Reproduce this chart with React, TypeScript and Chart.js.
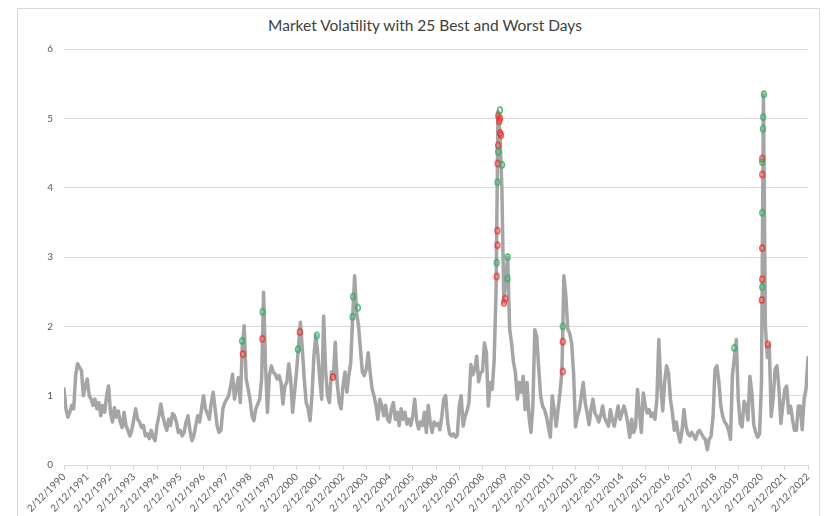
import React, { useEffect, useRef } from 'react';
import { Chart, registerables } from 'chart.js';

Chart.register(...registerables);

const TITLE = 'Market Volatility with 25 Best and Worst Days';

const tickLabels = [
  '2/12/1990', '2/12/1991', '2/12/1992', '2/12/1993', '2/12/1994', '2/12/1995',
  '2/12/1996', '2/12/1997', '2/12/1998', '2/12/1999', '2/12/2000', '2/12/2001',
  '2/12/2002', '2/12/2003', '2/12/2004', '2/12/2005', '2/12/2006', '2/12/2007',
  '2/12/2008', '2/12/2009', '2/12/2010', '2/12/2011', '2/12/2012', '2/12/2013',
  '2/12/2014', '2/12/2015', '2/12/2016', '2/12/2017', '2/12/2018', '2/12/2019',
  '2/12/2020', '2/12/2021', '2/12/2022',
];
const yTicks = [0, 1, 2, 3, 4, 5, 6];

// Monthly volatility readings (Feb .. Jan following each 2/12 label)
const vol1990 = [1.10, 0.81, 0.69, 0.76, 0.86, 0.81, 1.29, 1.46, 1.41, 1.36, 1.00, 1.14];
const vol1991 = [1.24, 1.00, 0.95, 0.86, 0.95, 0.81, 0.90, 0.71, 0.86, 0.76, 1.00, 1.14];
const vol1992 = [0.76, 0.62, 0.83, 0.69, 0.78, 0.62, 0.54, 0.76, 0.57, 0.50, 0.42, 0.50];
const vol1993 = [0.66, 0.81, 0.66, 0.62, 0.54, 0.57, 0.42, 0.45, 0.38, 0.50, 0.40, 0.35];
const vol1994 = [0.57, 0.71, 0.88, 0.71, 0.59, 0.50, 0.66, 0.57, 0.74, 0.71, 0.62, 0.47];
const vol1995 = [0.50, 0.42, 0.47, 0.62, 0.71, 0.50, 0.35, 0.42, 0.57, 0.71, 0.62, 0.81];
const vol1996 = [1.00, 0.81, 0.74, 0.66, 0.90, 1.05, 0.81, 0.57, 0.47, 0.50, 0.81, 0.90];
const vol1997 = [0.95, 1.00, 1.14, 1.31, 0.95, 1.10, 1.26, 0.90, 1.70, 2.01, 1.25, 1.10];
const vol1998 = [0.95, 0.71, 0.64, 0.81, 0.88, 0.95, 1.24, 2.49, 1.45, 0.76, 1.29, 1.43];
const vol1999 = [1.34, 1.31, 1.24, 1.29, 1.19, 0.88, 1.14, 1.19, 1.46, 1.24, 0.76, 1.05];
const vol2000 = [1.34, 1.70, 2.06, 1.67, 1.24, 0.90, 0.81, 0.64, 1.00, 1.58, 1.87, 1.60];
const vol2001 = [1.24, 0.95, 2.15, 1.38, 1.00, 0.90, 1.34, 1.27, 1.77, 1.19, 0.90, 0.81];
const vol2002 = [1.14, 1.34, 1.05, 1.29, 1.48, 2.15, 2.73, 2.20, 2.01, 1.67, 1.34, 1.29];
const vol2003 = [1.38, 1.62, 1.34, 1.10, 1.00, 0.86, 0.66, 0.95, 0.86, 0.71, 0.86, 0.66];
const vol2004 = [0.62, 0.81, 0.90, 0.66, 0.76, 0.57, 0.81, 0.66, 0.76, 0.59, 0.66, 0.57];
const vol2005 = [0.71, 0.95, 0.64, 0.52, 0.62, 0.57, 0.76, 0.47, 0.86, 0.62, 0.47, 0.62];
const vol2006 = [0.57, 0.60, 0.51, 0.70, 0.95, 1.00, 0.62, 0.45, 0.42, 0.45, 0.40, 0.43];
const vol2007 = [0.85, 1.00, 0.56, 0.70, 0.78, 0.90, 1.45, 1.30, 1.38, 1.57, 1.20, 1.33];
const vol2008 = [1.35, 1.76, 1.62, 0.85, 1.19, 1.09, 1.50, 2.50, 5.10, 4.80, 4.00, 2.34];
const vol2009 = [2.70, 3.00, 1.96, 1.76, 1.48, 1.33, 0.95, 1.19, 1.05, 1.28, 0.80, 1.19];
const vol2010 = [0.70, 0.47, 0.85, 1.95, 1.85, 1.40, 1.00, 0.85, 0.80, 0.70, 0.55, 0.40];
const vol2011 = [1.00, 0.80, 0.56, 0.80, 1.04, 1.35, 2.73, 2.45, 1.96, 1.90, 1.76, 1.33];
const vol2012 = [0.55, 0.70, 0.80, 1.00, 1.19, 0.90, 0.75, 0.58, 0.80, 0.95, 0.75, 0.70];
const vol2013 = [0.62, 0.72, 0.85, 0.68, 0.62, 0.56, 0.80, 0.65, 0.56, 0.70, 0.85, 0.66];
const vol2014 = [0.75, 0.85, 0.75, 0.60, 0.40, 0.66, 0.47, 0.55, 1.09, 0.75, 0.47, 1.04];
const vol2015 = [0.85, 0.75, 0.80, 0.70, 0.75, 0.66, 0.95, 1.81, 1.15, 0.78, 1.20, 1.43];
const vol2016 = [1.33, 0.95, 0.75, 0.50, 0.62, 0.45, 0.33, 0.50, 0.80, 0.56, 0.45, 0.42];
const vol2017 = [0.47, 0.42, 0.37, 0.47, 0.50, 0.45, 0.40, 0.37, 0.22, 0.37, 0.42, 0.70];
const vol2018 = [1.38, 1.43, 1.20, 0.85, 0.70, 0.62, 0.58, 0.50, 0.37, 1.30, 1.55, 1.81];
const vol2019 = [0.95, 0.60, 0.55, 0.92, 0.85, 0.65, 1.28, 1.05, 0.58, 0.47, 0.40, 0.45];
const vol2020 = [1.20, 5.35, 2.00, 1.55, 1.74, 0.70, 0.95, 1.38, 1.43, 1.10, 0.60, 0.85];
const vol2021 = [1.09, 1.14, 0.75, 0.85, 0.66, 0.50, 0.50, 0.85, 0.85, 0.51, 0.95, 1.10];
const vol2022 = [1.55];

// 25 best days (green) — years since 2/12/1990, volatility
const bestT = [7.66, 8.54, 10.06, 10.87, 12.41, 12.43, 12.64, 18.61, 18.64, 18.67, 18.75, 18.84, 19.07, 19.08, 21.45, 28.83, 30.03, 30.03, 30.03, 30.06, 30.07, 30.10];
const bestV = [1.79, 2.21, 1.67, 1.87, 2.14, 2.43, 2.27, 2.92, 4.08, 4.52, 5.12, 4.33, 2.69, 3.00, 2.00, 1.69, 2.57, 3.64, 4.37, 4.85, 5.02, 5.35];

// 25 worst days (red)
const worstT = [7.69, 8.53, 10.14, 11.57, 18.61, 18.64, 18.64, 18.65, 18.67, 18.75, 18.80, 18.72, 18.75, 18.68, 18.92, 18.98, 21.45, 21.45, 30.01, 30.03, 30.03, 30.03, 30.03, 30.27];
const worstV = [1.60, 1.82, 1.92, 1.27, 2.72, 3.17, 3.38, 4.35, 4.61, 4.79, 4.76, 4.96, 5.00, 5.04, 2.34, 2.40, 1.35, 1.78, 2.38, 2.68, 3.13, 4.19, 4.42, 1.74];

const yearly = [
  vol1990, vol1991, vol1992, vol1993, vol1994, vol1995, vol1996, vol1997,
  vol1998, vol1999, vol2000, vol2001, vol2002, vol2003, vol2004, vol2005,
  vol2006, vol2007, vol2008, vol2009, vol2010, vol2011, vol2012, vol2013,
  vol2014, vol2015, vol2016, vol2017, vol2018, vol2019, vol2020, vol2021, vol2022,
];

const FONT = 'Lato, "Open Sans", "Liberation Sans", sans-serif';

function ringMarker(color: string): HTMLCanvasElement {
  const c = document.createElement('canvas');
  c.width = 8;
  c.height = 10;
  const ctx = c.getContext('2d')!;
  ctx.strokeStyle = color;
  ctx.lineWidth = 1.3;
  ctx.beginPath();
  ctx.ellipse(4, 5, 2.3, 3.2, 0, 0, Math.PI * 2);
  ctx.stroke();
  return c;
}

export default function App() {
  const ref = useRef<HTMLCanvasElement>(null);

  useEffect(() => {
    const canvas = ref.current;
    if (!canvas) return;
    const linePoints = yearly.flatMap((arr, yi) => arr.map((v, m) => ({ x: yi + m / 12, y: v })));
    const bestPts = bestT.map((t, i) => ({ x: t, y: bestV[i] }));
    const worstPts = worstT.map((t, i) => ({ x: t, y: worstV[i] }));

    const chart = new Chart(canvas, {
      type: 'line',
      data: {
        datasets: [
          {
            label: 'Best days',
            data: bestPts,
            showLine: false,
            pointStyle: ringMarker('#25b061') as any,
            pointRadius: 4,
            order: 0,
          },
          {
            label: 'Worst days',
            data: worstPts,
            showLine: false,
            pointStyle: ringMarker('#f52a2a') as any,
            pointRadius: 4,
            order: 0,
          },
          {
            label: 'Volatility',
            data: linePoints,
            borderColor: '#a5a5a5',
            borderWidth: 3.5,
            pointRadius: 0,
            tension: 0,
            borderJoinStyle: 'round',
            borderCapStyle: 'round',
            order: 1,
          },
        ],
      },
      options: {
        responsive: false,
        animation: false,
        devicePixelRatio: 1,
        layout: { padding: { left: 0, right: 18, top: 49, bottom: 0 } },
        plugins: {
          legend: { display: false },
          tooltip: { enabled: false },
          title: { display: false },
        },
        scales: {
          x: {
            type: 'linear',
            min: 0,
            max: 32,
            afterBuildTicks: (s: any) => {
              s.ticks = tickLabels.map((_, i) => ({ value: i }));
            },
            afterFit: (s: any) => {
              s.height = 51;
            },
            ticks: {
              autoSkip: false,
              minRotation: 45,
              maxRotation: 45,
              padding: 1,
              color: '#595959',
              font: { family: FONT, size: 10 },
              callback: (v: any) => tickLabels[Math.round(Number(v))],
            },
            grid: {
              display: true,
              drawOnChartArea: false,
              drawTicks: true,
              tickLength: 5,
              color: '#d9d9d9',
            },
            border: { display: true, color: '#d9d9d9' },
          },
          y: {
            min: 0,
            max: 6,
            afterBuildTicks: (s: any) => {
              s.ticks = yTicks.map((v) => ({ value: v }));
            },
            afterFit: (s: any) => {
              s.width = 64;
            },
            ticks: {
              padding: 11,
              color: '#595959',
              font: { family: FONT, size: 10 },
            },
            grid: { color: '#d9d9d9', drawTicks: false },
            border: { display: false },
          },
        },
      } as any,
    });
    return () => chart.destroy();
  }, []);

  return (
    <div style={{ position: 'fixed', left: 0, top: 0, width: 826, height: 516, background: '#fff', overflow: 'hidden' }}>
      <div
        style={{
          position: 'absolute',
          left: 17,
          top: 8,
          width: 803,
          height: 540,
          border: '1px solid #d9d9d9',
          boxSizing: 'border-box',
        }}
      />
      <div
        style={{
          position: 'absolute',
          left: 0,
          top: 16,
          width: 850,
          textAlign: 'center',
          fontFamily: FONT,
          fontSize: 15.5,
          lineHeight: '18px',
          color: '#404040',
          whiteSpace: 'nowrap',
        }}
      >
        {TITLE}
      </div>
      <canvas ref={ref} width={826} height={516} style={{ position: 'absolute', left: 0, top: 0, display: 'block' }} />
    </div>
  );
}
